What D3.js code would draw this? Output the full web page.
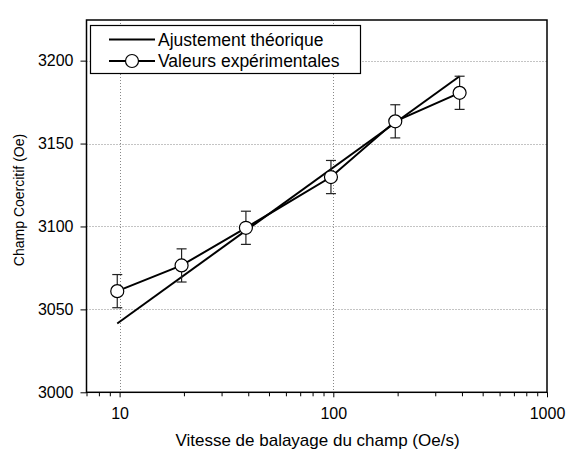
<!DOCTYPE html>
<html><head><meta charset="utf-8">
<script src="https://cdn.jsdelivr.net/npm/d3@7"></script>
<style>body{margin:0;background:#fff}svg{display:block}text{font-family:"Liberation Sans",Arial,sans-serif}</style>
</head><body><svg id="c" width="568" height="450"></svg>
<script>
// Data
const speed = [9.75, 19.5, 39, 97.5, 195, 390];           // Oe/s
const coercive = [3061, 3076.5, 3099.2, 3129.8, 3163.4, 3180.6]; // Oe
const errors = [10, 10, 10, 10, 10, 10];
const fitSpeed = [9.75, 390];
const fitField = [3041.5, 3190.6];
const xTicks = [10, 100, 1000];
const yTicks = [3000, 3050, 3100, 3150, 3200];
const legendLabels = ["Ajustement théorique", "Valeurs expérimentales"];

const svg = d3.select("#c");
const L = 86.5, R = 547, T = 20, B = 392.3;
const x = d3.scaleLog().domain([7, 1000]).range([L, R]);
const y = d3.scaleLinear().domain([3000, 3224.5]).range([B, T]);

// grid
const grid = svg.append("g").attr("stroke", "#888").attr("stroke-width", 1).attr("stroke-dasharray", "1,2");
grid.selectAll(".gx").data(xTicks.filter(d => d < 1000)).enter().append("line")
  .attr("x1", d => Math.round(x(d)) + 0.5).attr("x2", d => Math.round(x(d)) + 0.5).attr("y1", T).attr("y2", B);
grid.selectAll(".gy").data(yTicks.filter(d => d > 3000)).enter().append("line")
  .attr("y1", d => Math.round(y(d)) + 0.5).attr("y2", d => Math.round(y(d)) + 0.5).attr("x1", L).attr("x2", R);

// axes
const minor = [];
for (let dec = 1; dec <= 100; dec *= 10) for (let k = 2; k <= 9; k++) { const v = k * dec; if (v >= 7 && v < 1000) minor.push(v); }
const xAxis = d3.axisBottom(x).tickValues(xTicks).tickFormat(d3.format("d")).tickSize(5).tickPadding(10);
const gx = svg.append("g").attr("transform", `translate(0,${B})`).call(xAxis);
gx.select(".domain").remove();
gx.selectAll("text").attr("font-size", 16).attr("fill", "#000");
gx.selectAll("line").attr("stroke", "#000");
const xMinor = d3.axisBottom(x).tickValues(minor).tickFormat("").tickSize(4);
const gxm = svg.append("g").attr("transform", `translate(0,${B})`).call(xMinor);
gxm.select(".domain").remove();
gxm.selectAll("line").attr("stroke", "#000");

const yAxis = d3.axisLeft(y).tickValues(yTicks).tickFormat(d3.format("d")).tickSize(6).tickPadding(7);
const gy = svg.append("g").attr("transform", `translate(${L},0)`).call(yAxis);
gy.select(".domain").remove();
gy.selectAll("text").attr("font-size", 16).attr("fill", "#000");
gy.selectAll("line").attr("stroke", "#000");

// frame
svg.append("rect").attr("x", L).attr("y", T).attr("width", R - L).attr("height", B - T)
  .attr("fill", "none").attr("stroke", "#000").attr("stroke-width", 1.5);

// axis titles
svg.append("text").attr("x", 317.5).attr("y", 445.5).attr("text-anchor", "middle")
  .attr("font-size", 17).text("Vitesse de balayage du champ (Oe/s)");
svg.append("text").attr("transform", `translate(24,200) rotate(-90)`).attr("text-anchor", "middle")
  .attr("font-size", 14).text("Champ Coercitif (Oe)");

// fit line
const line = d3.line().x(d => x(d[0])).y(d => y(d[1]));
svg.append("path").datum(fitSpeed.map((s, i) => [s, fitField[i]])).attr("d", line)
  .attr("fill", "none").attr("stroke", "#000").attr("stroke-width", 2);

// error bars
const pts = speed.map((s, i) => ({ s, v: coercive[i], e: errors[i] }));
const eb = svg.append("g").attr("stroke", "#222").attr("stroke-width", 1.2);
pts.forEach(p => {
  const cx = x(p.s);
  eb.append("line").attr("x1", cx).attr("x2", cx).attr("y1", y(p.v + p.e)).attr("y2", y(p.v - p.e));
  eb.append("line").attr("x1", cx - 5).attr("x2", cx + 5).attr("y1", y(p.v + p.e)).attr("y2", y(p.v + p.e));
  eb.append("line").attr("x1", cx - 5).attr("x2", cx + 5).attr("y1", y(p.v - p.e)).attr("y2", y(p.v - p.e));
});

// data line
svg.append("path").datum(pts.map(p => [p.s, p.v])).attr("d", line)
  .attr("fill", "none").attr("stroke", "#000").attr("stroke-width", 2);
svg.selectAll(".pt").data(pts).enter().append("circle")
  .attr("cx", d => x(d.s)).attr("cy", d => y(d.v)).attr("r", 6.5)
  .attr("fill", "#fff").attr("stroke", "#000").attr("stroke-width", 1.2);

// legend
const lg = svg.append("g");
lg.append("rect").attr("x", 90.5).attr("y", 25.5).attr("width", 270).attr("height", 48)
  .attr("fill", "#fff").attr("stroke", "#000").attr("stroke-width", 1.2);
[39.5, 61].forEach((ly, i) => {
  lg.append("line").attr("x1", 109).attr("x2", 155).attr("y1", ly).attr("y2", ly).attr("stroke", "#000").attr("stroke-width", 2);
  if (i === 1) lg.append("circle").attr("cx", 132).attr("cy", ly).attr("r", 6.5).attr("fill", "#fff").attr("stroke", "#000").attr("stroke-width", 1.2);
  lg.append("text").attr("x", 158).attr("y", ly + 6).attr("font-size", 17.5).text(legendLabels[i]);
});
</script></body></html>
